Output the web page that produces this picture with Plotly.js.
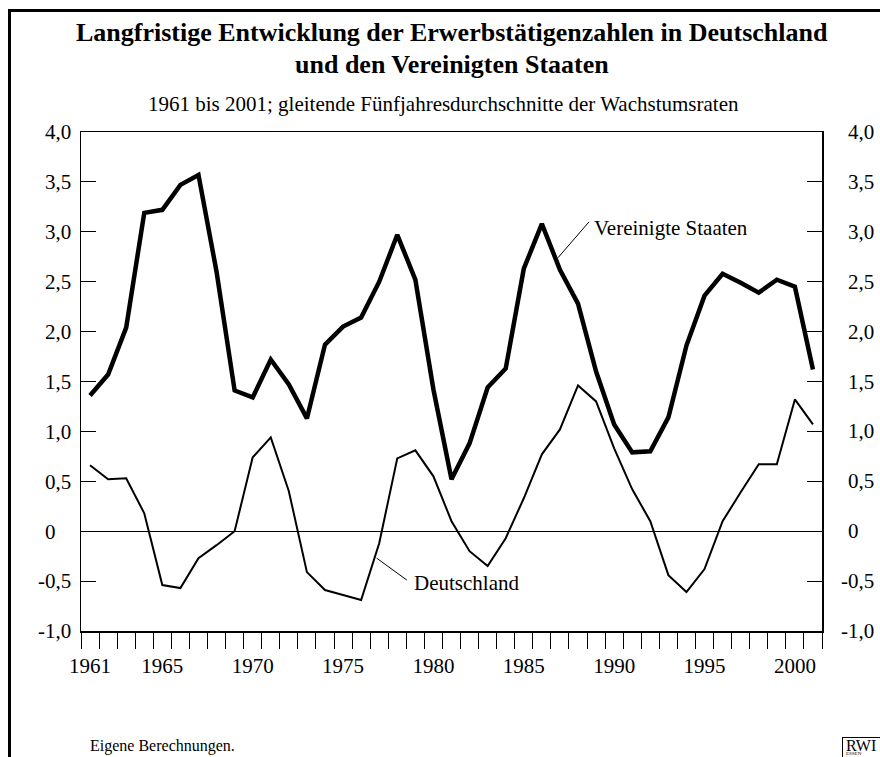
<!DOCTYPE html>
<html>
<head>
<meta charset="utf-8">
<script src="https://cdn.plot.ly/plotly-3.0.1.min.js"></script>
<style>
html,body{margin:0;padding:0;background:#fff;overflow:hidden;}
#wrap{position:relative;width:880px;height:757px;}
#chart{width:880px;height:757px;}
.bar{position:absolute;background:#000;pointer-events:none;z-index:10;}
</style>
</head>
<body>
<div id="wrap">
<div id="chart"></div>
<div class="bar" style="left:8px;top:9px;width:872px;height:3px;"></div>
<div class="bar" style="left:8px;top:9px;width:3px;height:748px;"></div>
<div class="bar" style="left:842px;top:737px;width:38px;height:1px;"></div>
<div class="bar" style="left:842px;top:737px;width:1px;height:20px;"></div>
</div>
<script>
// ---- data ----
const years = [1961,1962,1963,1964,1965,1966,1967,1968,1969,1970,
               1971,1972,1973,1974,1975,1976,1977,1978,1979,1980,
               1981,1982,1983,1984,1985,1986,1987,1988,1989,1990,
               1991,1992,1993,1994,1995,1996,1997,1998,1999,2000,2001];
const usa = [1.36,1.57,2.04,3.19,3.22,3.47,3.57,2.60,1.41,1.34,
             1.72,1.47,1.13,1.87,2.05,2.14,2.50,2.97,2.52,1.42,
             0.52,0.88,1.44,1.63,2.63,3.08,2.62,2.28,1.60,1.07,
             0.79,0.80,1.14,1.86,2.36,2.58,2.49,2.39,2.52,2.45,1.62];
const germany = [0.66,0.52,0.53,0.18,-0.54,-0.57,-0.27,-0.14,0.00,0.74,
                 0.94,0.40,-0.41,-0.59,-0.64,-0.69,-0.12,0.73,0.81,0.55,
                 0.10,-0.20,-0.35,-0.07,0.33,0.77,1.02,1.46,1.30,0.83,
                 0.42,0.10,-0.44,-0.61,-0.38,0.10,0.39,0.67,0.67,1.32,1.07];
const xLabelYears = [1961,1965,1970,1975,1980,1985,1990,1995,2000];
const yTickVals = [-1,-0.5,0,0.5,1,1.5,2,2.5,3,3.5,4];
const yTickText = ["-1,0","-0,5","0\u2008\u2007","0,5","1,0","1,5","2,0","2,5","3,0","3,5","4,0"];
const seriesNames = ["Vereinigte Staaten","Deutschland"];

// ---- layout constants ----
const FONT = "Liberation Serif, Times New Roman, serif";
const W = 880, H = 757;
const M = {l:81, r:58, t:132, b:126};
const pw = W - M.l - M.r, ph = H - M.t - M.b;
const px = x => (x - M.l) / pw;      // pixel -> paper x
const py = y => (H - M.b - y) / ph;  // pixel -> paper y

const boundaries = years.map(y => y - 0.5).concat([years[years.length-1] + 0.5]);
const xRange = [boundaries[0], boundaries[boundaries.length-1]];

const traces = [
  {x: years, y: usa, type:'scatter', mode:'lines', name: seriesNames[0],
   line:{color:'#000', width:4.5}, hoverinfo:'skip'},
  {x: years, y: germany, type:'scatter', mode:'lines', name: seriesNames[1],
   line:{color:'#000', width:2}, hoverinfo:'skip'},
  // carrier trace so that the overlay axes (year labels, right ticks) are drawn
  {x: years, y: germany, xaxis:'x2', yaxis:'y2', type:'scatter', mode:'lines',
   line:{color:'rgba(0,0,0,0)', width:0}, hoverinfo:'skip', showlegend:false}
];

const rightLabels = yTickVals.map((v,i) => ({
  xref:'paper', yref:'y', x: px(876), y: v, xanchor:'right', yanchor:'middle',
  text: yTickText[i], showarrow:false, font:{family:FONT, size:21, color:'#000'}
}));

const layout = {
  width: W, height: H,
  margin: {l:M.l, r:M.r, t:M.t, b:M.b, pad:0},
  paper_bgcolor:'rgba(0,0,0,0)', plot_bgcolor:'rgba(0,0,0,0)',
  showlegend:false,
  font:{family:FONT, color:'#000'},
  xaxis:{
    range: xRange, tickmode:'array', tickvals: boundaries, showticklabels:false,
    ticks:'outside', ticklen:16, tickwidth:1, tickcolor:'#000',
    showline:true, linecolor:'#000', linewidth:1.5, mirror:true,
    showgrid:false, zeroline:false, fixedrange:true
  },
  xaxis2:{
    overlaying:'x', anchor:'y', side:'bottom', range: xRange,
    tickmode:'array', tickvals: xLabelYears, ticktext: xLabelYears.map(String),
    ticks:'outside', ticklen:16, tickcolor:'rgba(0,0,0,0)',
    showline:false, showgrid:false, zeroline:false,
    tickfont:{family:FONT, size:21, color:'#000'}
  },
  yaxis:{
    range:[-1,4], tickmode:'array', tickvals: yTickVals, ticktext: yTickText,
    ticks:'inside', ticklen:15, tickwidth:1, tickcolor:'#000',
    showline:true, linecolor:'#000', linewidth:1.5,
    zeroline:true, zerolinecolor:'#000', zerolinewidth:1,
    showgrid:false, ticklabelstandoff:4,
    tickfont:{family:FONT, size:21, color:'#000'}
  },
  yaxis2:{
    overlaying:'y', side:'right', anchor:'x', range:[-1,4],
    tickmode:'array', tickvals: yTickVals, showticklabels:false,
    ticks:'inside', ticklen:15, tickwidth:1, tickcolor:'#000',
    showline:true, linecolor:'#000', linewidth:1.5,
    showgrid:false, zeroline:false
  },
  shapes:[
    // leader lines
    {type:'line', xref:'x', yref:'y', x0:1986.89, y0:2.74, x1:1988.61, y1:3.10,
     line:{color:'#000', width:1}},
    {type:'line', xref:'x', yref:'y', x0:1976.86, y0:-0.27, x1:1978.53, y1:-0.49,
     line:{color:'#000', width:1}}
  ],
  annotations:[
    {xref:'paper', yref:'paper', x:0.5, y:py(33), xanchor:'center', yanchor:'middle',
     text:'<b>Langfristige Entwicklung der Erwerbstätigenzahlen in Deutschland</b>',
     showarrow:false, font:{family:FONT, size:26, color:'#000'}},
    {xref:'paper', yref:'paper', x:0.5, y:py(65), xanchor:'center', yanchor:'middle',
     text:'<b>und den Vereinigten Staaten</b>',
     showarrow:false, font:{family:FONT, size:26, color:'#000'}},
    {xref:'paper', yref:'paper', x:px(443), y:py(104), xanchor:'center', yanchor:'middle',
     text:'1961 bis 2001; gleitende Fünfjahresdurchschnitte der Wachstumsraten',
     showarrow:false, font:{family:FONT, size:21, color:'#000'}},
    {xref:'x', yref:'y', x:1988.75, y:3.04, xanchor:'left', yanchor:'middle',
     text: seriesNames[0], showarrow:false, font:{family:FONT, size:21, color:'#000'}},
    {xref:'x', yref:'y', x:1978.8, y:-0.52, xanchor:'left', yanchor:'middle',
     text: seriesNames[1], showarrow:false, font:{family:FONT, size:21, color:'#000'}},
    {xref:'paper', yref:'paper', x:px(88), y:py(746), xanchor:'left', yanchor:'middle',
     text:'Eigene Berechnungen.', showarrow:false, font:{family:FONT, size:16, color:'#000'}},
    {xref:'paper', yref:'paper', x:px(844), y:py(745), xanchor:'left', yanchor:'middle',
     text:'RWI', showarrow:false, font:{family:FONT, size:16, color:'#000'}},
    {xref:'paper', yref:'paper', x:px(844), y:py(753), xanchor:'left', yanchor:'middle',
     text:'ESSEN', showarrow:false, font:{family:FONT, size:5, color:'#000'}}
  ].concat(rightLabels)
};

Plotly.newPlot('chart', traces, layout, {staticPlot:true, displayModeBar:false});
</script>
</body>
</html>
